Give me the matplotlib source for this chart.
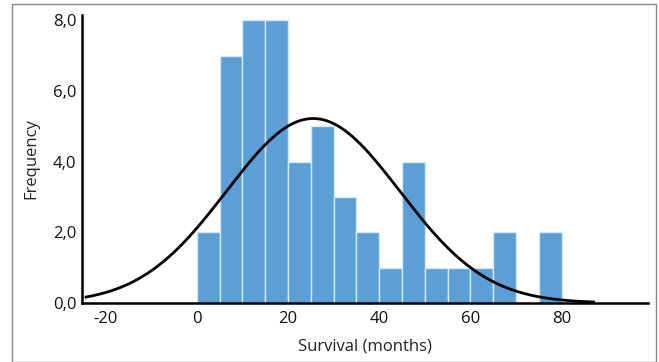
import matplotlib.pyplot as plt
import numpy as np
from matplotlib.patches import Rectangle

# histogram of survival times (bin width 5 months)
bin_edges = [0, 5, 10, 15, 20, 25, 30, 35, 40, 45, 50, 55, 60, 65, 70, 75, 80]
counts = [2, 7, 8, 8, 4, 5, 3, 2, 1, 4, 1, 1, 1, 2, 0, 2]

# fitted normal curve
mean_surv = 25.5
sd_surv = 19.0
n_cases = sum(counts)
bin_width = 5

x_ticks = [-20, 0, 20, 40, 60, 80]
y_ticks = [0, 2, 4, 6, 8]
y_tick_labels = ['0,0', '2,0', '4,0', '6,0', '8,0']

plt.rcParams['font.family'] = ['Open Sans', 'DejaVu Sans']
plt.rcParams['axes.unicode_minus'] = False

fig = plt.figure(figsize=(6.59, 3.62), dpi=100)
ax = fig.add_axes([0.1244, 0.163, 0.8586, 0.7956])

lefts = bin_edges[:-1]
ax.bar(lefts, counts, width=bin_width, align='edge', color='#5b9fd6',
       edgecolor='#d5e8f6', linewidth=1.0, zorder=2)

xs = np.linspace(-24.3, 87, 300)
ys = n_cases * bin_width / (sd_surv * np.sqrt(2 * np.pi)) * np.exp(-0.5 * ((xs - mean_surv) / sd_surv) ** 2)
ys = ys * 0.975
ax.plot(xs, ys, color='black', linewidth=2, zorder=3)

ax.set_xlim(-25.2, 98.9)
ax.set_ylim(0, 8.15)
ax.set_xticks(x_ticks)
ax.set_yticks(y_ticks)
ax.set_yticklabels(y_tick_labels)
ax.tick_params(length=0, labelsize=12, colors='#111111', pad=6)
ax.tick_params(axis='y', pad=4)
ax.spines['top'].set_visible(False)
ax.spines['right'].set_visible(False)
ax.spines['left'].set_linewidth(1.8)
ax.spines['bottom'].set_linewidth(1.8)
ax.set_xlabel('Survival (months)', fontsize=12, color='#222222', labelpad=8)
ax.set_ylabel('Frequency', fontsize=12, color='#222222', labelpad=10)

# thin frame around the whole figure
fig.patches.append(Rectangle((12 / 659, 0), 644 / 659, 1 - 4 / 362, transform=fig.transFigure,
                             fill=False, edgecolor='#888888', linewidth=1))

fig.savefig('out.png', dpi=100)
